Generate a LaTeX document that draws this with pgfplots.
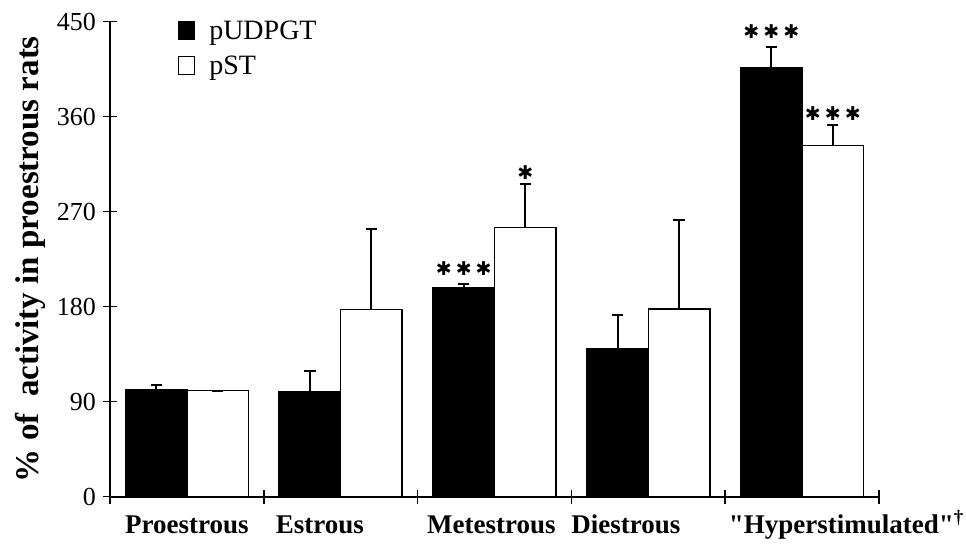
\documentclass[border=0pt]{standalone}
\usepackage{fontspec}
\setmainfont{Liberation Serif}[Ligatures=TeXOff]
\newfontfamily\starfont{DejaVu Sans}
\usepackage{pgfplots}
\pgfplotsset{compat=1.18}
\newcommand\threestars{{\starfont ✱\kern2pt✱\kern2pt✱}}
\newcommand\onestar{{\starfont ✱}}
\begin{document}
\begin{tikzpicture}
\useasboundingbox (0,0) rectangle (483pt,272pt);
\begin{axis}[
 at={(55pt,23.65pt)}, anchor=south west,
 scale only axis, width=384.5pt, height=237.5pt,
 xmin=0, xmax=5, ymin=0, ymax=450,
 axis x line=bottom, axis y line=left,
 axis line style={-, line width=1pt},
 ytick={0,90,...,450},
 xtick={0,1,2,3,4,5}, xticklabels={},
 extra x ticks={0.5,1.365,2.48,3.355,4.79},
 extra x tick labels={Proestrous, Estrous, Metestrous, Diestrous, {"Hyperstimulated"\textsuperscript{\dag}}},
 extra x tick style={major tick length=0pt, tick label style={font=\fontsize{13.5}{15}\selectfont\bfseries, text height=12pt, text depth=3pt, yshift=-3pt}},
 tick align=center, major tick length=7pt,
 tick style={line width=0.8pt, black},
 yticklabel style={font=\fontsize{13}{15}\selectfont},
 /pgf/number format/assume math mode=true,
 ylabel={\% of\ \ activity in proestrous rats},
 ylabel style={font=\fontsize{16.5}{18}\selectfont\bfseries, at={(axis description cs:-0.104,0.5)}, anchor=center},
 legend image code/.code={\draw[#1, line width=0.6pt] (0pt,-4pt) rectangle (8pt,5pt); \path (13pt,0pt);},
 legend style={draw=none, fill=none, at={(0.08,1.02)}, anchor=north west, font=\fontsize{14}{16}\selectfont, row sep=3pt},
 legend cell align=left,
 error bars/error bar style={line width=1pt},
 error bars/error mark options={rotate=90, line width=1pt, mark size=2.8pt},
]
\addplot[ybar, bar width=0.4, bar shift=0, fill=black, draw=black, line width=0.75pt,
  error bars/.cd, y dir=plus, y explicit]
 table[x=x, y=y, y error=e] {
x y e
0.3 101.5 4
1.3 99 20
2.3 198.4 3
3.3 140.6 31.5
4.3 406 20
};
\addlegendentry{pUDPGT}
\addplot[ybar, bar width=0.4, bar shift=0, fill=white, draw=black, line width=0.75pt,
  error bars/.cd, y dir=plus, y explicit]
 table[x=x, y=y, y error=e] {
x y e
0.7 100.5 0
1.7 177.5 76
2.7 255 41
3.7 177.7 84
4.7 332.5 19.6
};
\addlegendentry{pST}
\addplot[draw=none, mark=none, forget plot, nodes near coords={\threestars}, nodes near coords style={anchor=center, font=\fontsize{9.5}{10}\selectfont}]
 table {
x y
2.3 216
4.3 441
4.7 363
};
\addplot[draw=none, mark=none, forget plot, nodes near coords={\onestar}, nodes near coords style={anchor=center, font=\fontsize{9.5}{10}\selectfont}]
 table {
x y
2.7 307
};
\end{axis}
\end{tikzpicture}
\end{document}
